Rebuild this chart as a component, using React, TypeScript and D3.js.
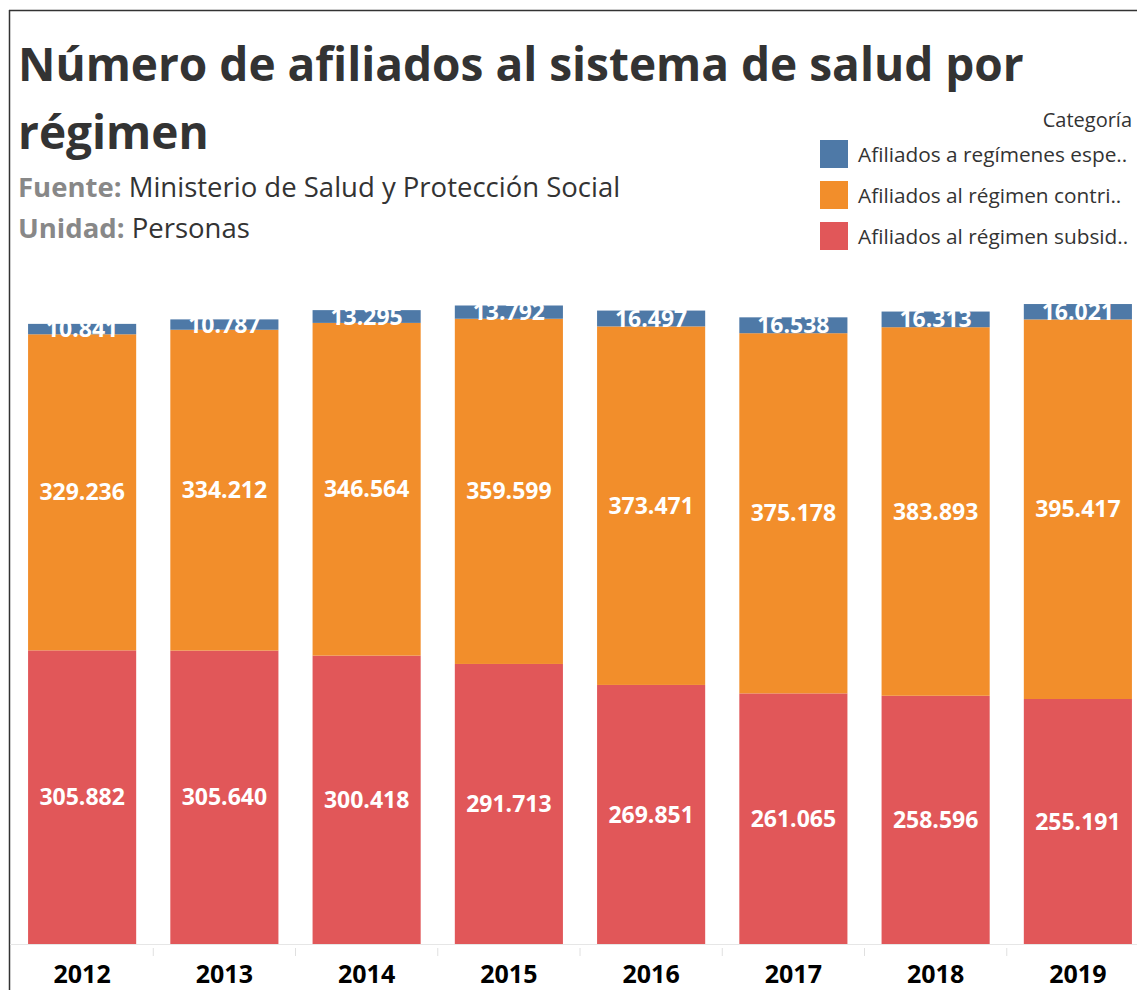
import React from "react";
import * as d3 from "d3";

const years = ["2012", "2013", "2014", "2015", "2016", "2017", "2018", "2019"];
const subsidiado = [305882, 305640, 300418, 291713, 269851, 261065, 258596, 255191];
const contributivo = [329236, 334212, 346564, 359599, 373471, 375178, 383893, 395417];
const especiales = [10841, 10787, 13295, 13792, 16497, 16538, 16313, 16021];

const seriesKeys = ["subsidiado", "contributivo", "especiales"];
const seriesColors = ["#E15759", "#F28E2B", "#4E79A7"];
const legendLabels = [
  "Afiliados a regímenes espe..",
  "Afiliados al régimen contri..",
  "Afiliados al régimen subsid..",
];
const legendColors = ["#4E79A7", "#F28E2B", "#E15759"];

const W = 1137;
const H = 990;
const FONT = "'Open Sans', 'Noto Sans', sans-serif";

export default function App() {
  const rows = years.map((y, i) => ({
    year: y,
    subsidiado: subsidiado[i],
    contributivo: contributivo[i],
    especiales: especiales[i],
  }));
  const stack = d3.stack<any>().keys(seriesKeys);
  const stacked = stack(rows);

  const x = d3.scaleBand().domain(years).range([11, 1149]).paddingInner(0.24).paddingOuter(0.12);
  const y = d3.scaleLinear().domain([0, 700000]).range([944, 272]);
  const fmt = (v: number) => d3.format(",")(v).replace(/,/g, ".");
  const step = x.step();

  return (
    <div style={{ position: "absolute", left: 0, top: 0 }}>
      <svg width={W} height={H} style={{ display: "block", background: "#fff" }} fontFamily={FONT}>
        <line x1={9.5} x2={9.5} y1={10} y2={H} stroke="#333" strokeWidth={1.5} />
        <line x1={9} x2={W} y1={10.5} y2={10.5} stroke="#333" strokeWidth={1.5} />

        <text x={18} y={81} fontSize={46} fontWeight={700} fill="#333">
          Número de afiliados al sistema de salud por
        </text>
        <text x={18} y={149} fontSize={46} fontWeight={700} fill="#333">
          régimen
        </text>
        <text x={18} y={197} fontSize={27.5} fill="#333">
          <tspan fontWeight={700} fill="#888">Fuente:</tspan>
          <tspan> Ministerio de Salud y Protección Social</tspan>
        </text>
        <text x={18} y={238} fontSize={27.5} fill="#333">
          <tspan fontWeight={700} fill="#888">Unidad:</tspan>
          <tspan> Personas</tspan>
        </text>

        <text x={1132} y={127} fontSize={20} fill="#333" textAnchor="end">Categoría</text>
        {legendLabels.map((l, i) => (
          <g key={l}>
            <rect x={820} y={140 + i * 41} width={28} height={28} fill={legendColors[i]} />
            <text x={858} y={162 + i * 41} fontSize={20.8} fill="#333">{l}</text>
          </g>
        ))}

        {stacked.map((s, si) => (
          <g key={s.key}>
            {s.map((d, i) => (
              <rect
                key={i}
                x={x(years[i])}
                width={x.bandwidth()}
                y={y(d[1])}
                height={y(d[0]) - y(d[1])}
                fill={seriesColors[si]}
              />
            ))}
          </g>
        ))}
        {stacked.map((s, si) => (
          <g key={"l" + s.key}>
            {s.map((d, i) => (
              <text
                key={i}
                x={(x(years[i]) as number) + x.bandwidth() / 2}
                y={(y(d[0]) + y(d[1])) / 2}
                dy="0.35em"
                textAnchor="middle"
                fontSize={23}
                fontWeight={700}
                fill="#fff"
              >
                {fmt(d[1] - d[0])}
              </text>
            ))}
          </g>
        ))}

        <line x1={10} x2={W} y1={944.5} y2={944.5} stroke="#e6e6e6" strokeWidth={1} />
        {years.slice(1).map((yr) => (
          <line
            key={"t" + yr}
            x1={(x(yr) as number) - (step - x.bandwidth()) / 2}
            x2={(x(yr) as number) - (step - x.bandwidth()) / 2}
            y1={948}
            y2={956}
            stroke="#e0e0e0"
          />
        ))}
        {years.map((yr) => (
          <text
            key={"x" + yr}
            x={(x(yr) as number) + x.bandwidth() / 2}
            y={983}
            textAnchor="middle"
            fontSize={25}
            fontWeight={700}
            fill="#000"
          >
            {yr}
          </text>
        ))}
      </svg>
    </div>
  );
}
